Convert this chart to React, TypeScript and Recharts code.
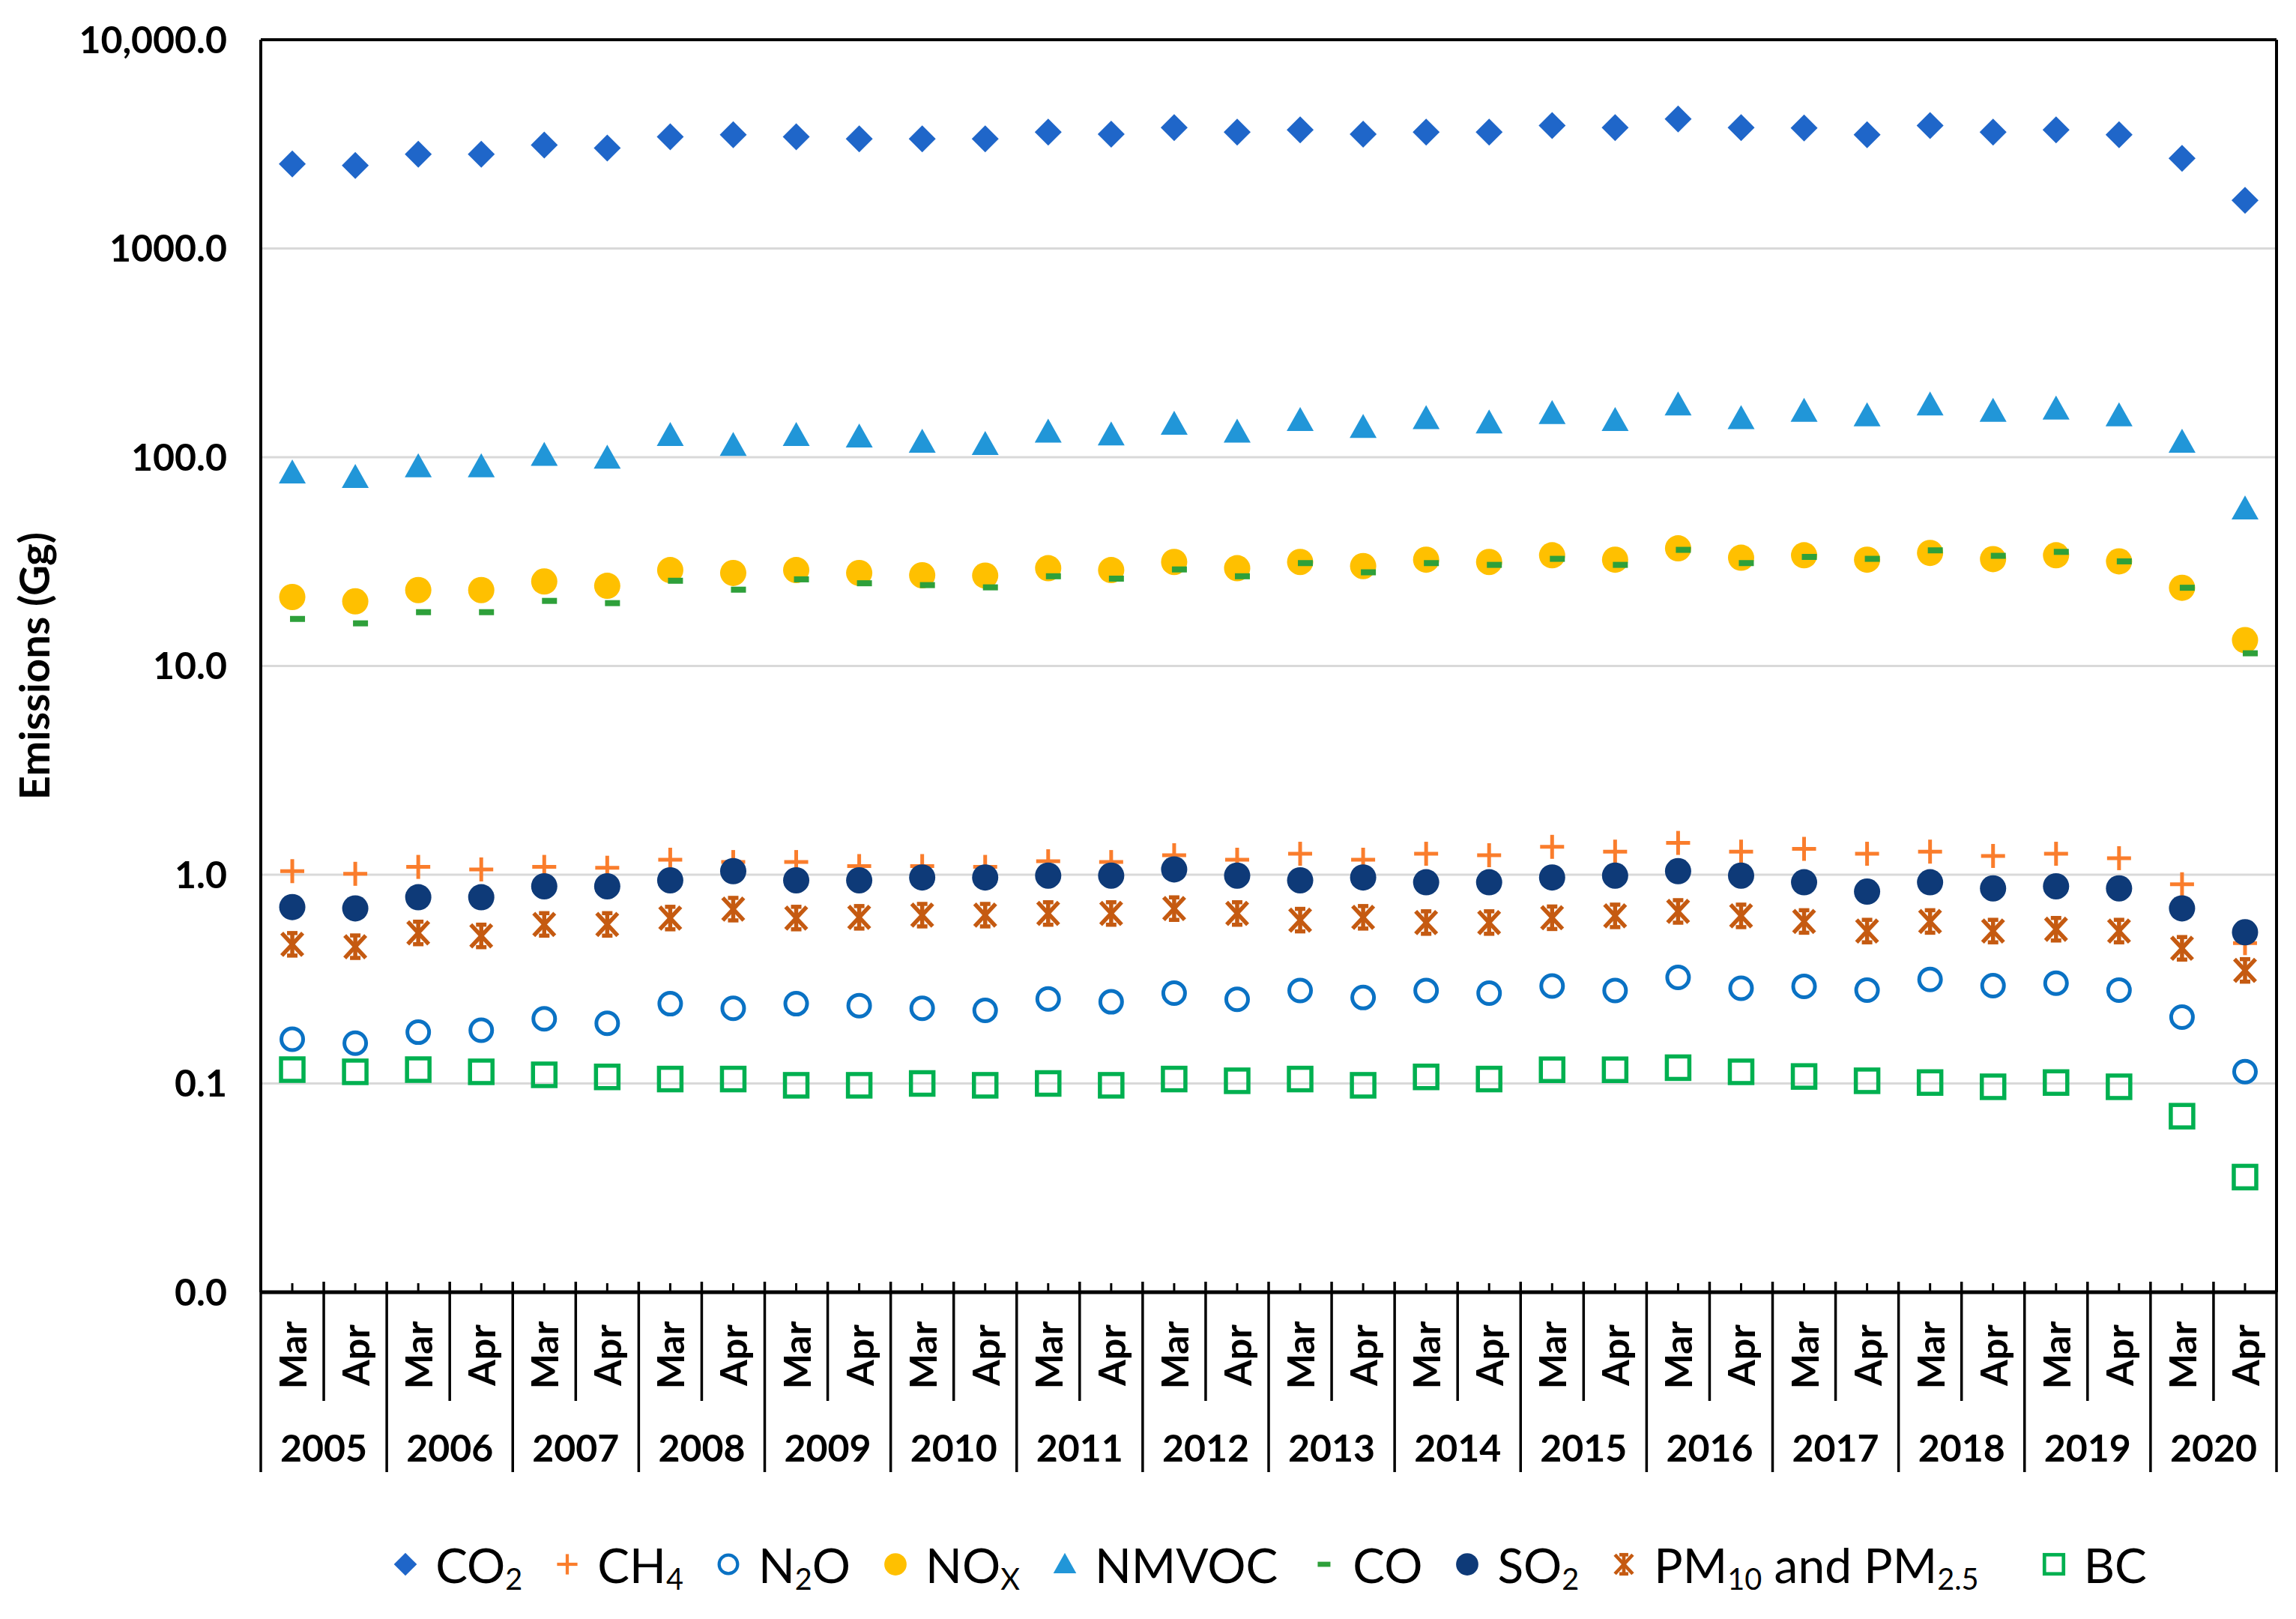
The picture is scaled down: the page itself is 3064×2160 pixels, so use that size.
import React from 'react'
import { ComposedChart, Line, XAxis, YAxis, CartesianGrid, ReferenceLine, Legend, Label } from 'recharts'

const FONT = 'Lato, "Open Sans", sans-serif'
const W = 3048
const H = 2144
const PLOT_W = 2690
const BAND = PLOT_W / 32

// ── data (Gg) ────────────────────────────────────────────
const years = ['2005', '2006', '2007', '2008', '2009', '2010', '2011', '2012',
  '2013', '2014', '2015', '2016', '2017', '2018', '2019', '2020']
const months = ['Mar', 'Apr']
const yTicks = [0.01, 0.1, 1, 10, 100, 1000, 10000]

const co2 = [2540, 2500, 2830, 2830, 3130, 3030, 3430, 3510, 3430, 3350, 3350, 3350, 3610, 3530, 3790, 3610,
  3700, 3530, 3610, 3610, 3880, 3790, 4170, 3790, 3780, 3510, 3880, 3610, 3700, 3510, 2700, 1700]
const ch4 = [1.04, 1.01, 1.09, 1.06, 1.09, 1.08, 1.18, 1.15, 1.15, 1.10, 1.10, 1.09, 1.16, 1.15, 1.24, 1.18,
  1.26, 1.18, 1.26, 1.24, 1.36, 1.29, 1.42, 1.29, 1.33, 1.26, 1.29, 1.23, 1.26, 1.20, 0.90, 0.47]
const n2o = [0.163, 0.156, 0.176, 0.180, 0.204, 0.194, 0.241, 0.229, 0.241, 0.236, 0.229, 0.224, 0.254, 0.246, 0.271, 0.253,
  0.279, 0.258, 0.279, 0.271, 0.293, 0.279, 0.322, 0.286, 0.292, 0.280, 0.315, 0.294, 0.302, 0.280, 0.208, 0.114]
const nox = [21.4, 20.4, 23.1, 23.1, 25.4, 24.2, 28.8, 27.9, 28.8, 27.9, 27.2, 27.1, 29.4, 28.8, 31.5, 29.4,
  31.5, 30.1, 32.3, 31.5, 33.9, 32.3, 36.6, 33.0, 33.9, 32.3, 34.8, 32.5, 33.9, 31.7, 23.7, 13.3]
const nmvoc = [84, 80, 90, 90, 102, 99, 127, 114, 127, 125, 118, 115, 132, 128, 144, 132,
  150, 139, 153, 146, 162, 150, 178, 153, 166, 158, 178, 166, 170, 158, 118, 56.5]
const co = [16.8, 16.0, 18.1, 18.1, 20.5, 20.0, 25.6, 23.2, 26.0, 24.9, 24.4, 23.8, 26.9, 26.2, 29.0, 26.9,
  31.1, 28.1, 31.1, 30.5, 32.6, 30.5, 36.0, 31.1, 33.3, 32.6, 35.8, 33.7, 35.2, 31.7, 23.7, 11.5]
const so2 = [0.70, 0.69, 0.78, 0.78, 0.88, 0.88, 0.94, 1.04, 0.94, 0.94, 0.97, 0.97, 0.99, 0.99, 1.06, 0.99,
  0.94, 0.97, 0.92, 0.92, 0.97, 0.99, 1.04, 0.99, 0.92, 0.83, 0.92, 0.86, 0.88, 0.86, 0.69, 0.53]
const pm = [0.464, 0.452, 0.526, 0.509, 0.578, 0.578, 0.62, 0.684, 0.62, 0.625, 0.64, 0.64, 0.652, 0.652, 0.688, 0.652,
  0.606, 0.625, 0.59, 0.59, 0.622, 0.635, 0.667, 0.635, 0.597, 0.537, 0.597, 0.537, 0.548, 0.537, 0.444, 0.348]
const bc = [0.1165, 0.1137, 0.1165, 0.1137, 0.110, 0.1075, 0.105, 0.105, 0.098, 0.098, 0.100, 0.098, 0.100, 0.098, 0.105, 0.103,
  0.105, 0.098, 0.1075, 0.105, 0.1163, 0.1163, 0.119, 0.1137, 0.108, 0.103, 0.101, 0.0964, 0.101, 0.0964, 0.0697, 0.0356]

const data = years.flatMap((y, yi) => months.map((m, mi) => {
  const i = yi * 2 + mi
  return {
    key: `${y}-${m}`, co2: co2[i], ch4: ch4[i], n2o: n2o[i], nox: nox[i], nmvoc: nmvoc[i],
    co: co[i], so2: so2[i], pm: pm[i], bc: bc[i],
  }
}))
const LAST_KEY = data[data.length - 1].key

const sub = (t: string) => (
  <sub style={{ fontSize: '0.62em', verticalAlign: '-0.22em', lineHeight: 0 }}>{t}</sub>
)

const series = [
  { key: 'co2', shape: 'diamond', color: '#1F66C9', label: <>CO{sub('2')}</> },
  { key: 'ch4', shape: 'plus', color: '#FA7D2C', label: <>CH{sub('4')}</> },
  { key: 'n2o', shape: 'ring', color: '#0A72C4', label: <>N{sub('2')}O</> },
  { key: 'nox', shape: 'dot', color: '#FFC000', label: <>NO{sub('X')}</> },
  { key: 'nmvoc', shape: 'triangle', color: '#2196D8', label: <>NMVOC</> },
  { key: 'co', shape: 'dash', color: '#2EA03A', label: <>CO</> },
  { key: 'so2', shape: 'dot', color: '#0E3A78', label: <>SO{sub('2')}</> },
  { key: 'pm', shape: 'star', color: '#C55A11', label: <>PM{sub('10')} and PM{sub('2.5')}</> },
  { key: 'bc', shape: 'square', color: '#00B050', label: <>BC</> },
]

// ── markers ───────────────────────────────────────────────
function marker(shape: string, cx: number, cy: number, c: string, s = 1) {
  switch (shape) {
    case 'diamond':
      return <path d={`M${cx},${cy - 18 * s}L${cx + 18 * s},${cy}L${cx},${cy + 18 * s}L${cx - 18 * s},${cy}Z`} fill={c} />
    case 'plus':
      return (
        <g stroke={c} strokeWidth={5 * s}>
          <line x1={cx - 16 * s} x2={cx + 16 * s} y1={cy} y2={cy} />
          <line x1={cx} x2={cx} y1={cy - 16 * s} y2={cy + 16 * s} />
        </g>
      )
    case 'ring':
      return <circle cx={cx} cy={cy} r={14.5 * s} fill="none" stroke={c} strokeWidth={5 * s} />
    case 'dot':
      return <circle cx={cx} cy={cy} r={17.5 * s} fill={c} />
    case 'triangle':
      return <path d={`M${cx},${cy - 18 * s}L${cx + 18 * s},${cy + 14 * s}L${cx - 18 * s},${cy + 14 * s}Z`} fill={c} />
    case 'dash':
      return <rect x={cx - 10 * s + 7 * s} y={cy - 4 * s} width={20 * s} height={8 * s} fill={c} />
    case 'star':
      return (
        <g stroke={c} strokeWidth={5.5 * s}>
          <line x1={cx} x2={cx} y1={cy - 17 * s} y2={cy + 17 * s} />
          <line x1={cx - 14 * s} x2={cx + 14 * s} y1={cy - 15 * s} y2={cy + 15 * s} />
          <line x1={cx + 14 * s} x2={cx - 14 * s} y1={cy - 15 * s} y2={cy + 15 * s} />
          <line x1={cx - 7 * s} x2={cx + 7 * s} y1={cy - 15 * s} y2={cy - 15 * s} />
          <line x1={cx - 7 * s} x2={cx + 7 * s} y1={cy + 15 * s} y2={cy + 15 * s} />
        </g>
      )
    case 'square':
      return <rect x={cx - 15 * s} y={cy - 15 * s} width={30 * s} height={30 * s} fill="none" stroke={c} strokeWidth={5.5 * s} />
  }
  return null
}

const makeDot = (shape: string, color: string, name: string) => (p: any) => {
  if (p.cx == null || p.cy == null) return <g key={`${name}-${p.index}`} />
  return <g key={`${name}-${p.index}`}>{marker(shape, p.cx, p.cy, color)}</g>
}

const yFmt = (v: number) =>
  v >= 10000 ? v.toLocaleString('en-US', { minimumFractionDigits: 1 }) : v.toFixed(1)

// ── two-level category axis (month / year) ───────────────
function MonthYearTick(props: any) {
  const { x, y, payload } = props
  const [year, month] = String(payload.value).split('-')
  const isMar = month === 'Mar'
  const left = x - BAND / 2
  const ly = y + 84
  return (
    <g>
      <line x1={x} x2={x} y1={y - 12} y2={y} stroke="#000" strokeWidth={3} />
      <line x1={left} x2={left} y1={y - 14} y2={y + (isMar ? 240 : 145)} stroke="#000" strokeWidth={3.5} />
      {payload.value === LAST_KEY && (
        <line x1={x + BAND / 2} x2={x + BAND / 2} y1={y - 14} y2={y + 240} stroke="#000" strokeWidth={3.5} />
      )}
      <text x={x} y={ly} transform={`rotate(-90, ${x}, ${ly})`} textAnchor="middle" dominantBaseline="central"
        fontFamily={FONT} fontWeight={700} fontSize={50} fill="#000">{month}</text>
      {isMar && (
        <text x={x + BAND / 2} y={y + 207} textAnchor="middle" dominantBaseline="central"
          fontFamily={FONT} fontWeight={700} fontSize={50} fill="#000">{year}</text>
      )}
    </g>
  )
}

function LegendBox() {
  return (
    <div style={{ display: 'flex', justifyContent: 'center', alignItems: 'center', height: 90,
      fontFamily: FONT, fontSize: 64, color: '#000', whiteSpace: 'nowrap' }}>
      {series.map((s, i) => (
        <div key={s.key} style={{ display: 'flex', alignItems: 'center',
          marginLeft: i === 0 ? 0 : s.key === 'bc' ? 80 : 40 }}>
          <svg width={40} height={44}>{marker(s.shape, s.shape === 'dash' ? 16 : 20, 22, s.color, 0.85)}</svg>
          <span style={{ marginLeft: 20 }}>{s.label}</span>
        </div>
      ))}
    </div>
  )
}

export default function App() {
  return (
    <div style={{ width: W, height: H, background: '#fff' }}>
      <ComposedChart width={W} height={H} data={data} margin={{ top: 45, right: 0, left: 0, bottom: 88 }}>
        <CartesianGrid vertical={false} stroke="#d9d9d9" strokeWidth={3} />
        <XAxis dataKey="key" scale="band" interval={0} height={250} tickSize={0} tickMargin={0}
          tickLine={false} axisLine={{ stroke: '#000', strokeWidth: 5 }} tick={<MonthYearTick />} />
        <YAxis scale="log" domain={[0.01, 10000]} ticks={yTicks} allowDataOverflow width={340}
          tickFormatter={yFmt} tickSize={0} tickMargin={45} tickLine={false}
          axisLine={{ stroke: '#000', strokeWidth: 4 }}
          tick={{ fontSize: 50, fontWeight: 700, fill: '#000', fontFamily: FONT }}>
          <Label value="Emissions (Gg)" angle={-90} position="insideLeft" offset={38}
            style={{ textAnchor: 'middle', fontSize: 56, fontWeight: 700, fontFamily: FONT, fill: '#000' }} />
        </YAxis>
        <YAxis yAxisId="r" orientation="right" width={18} domain={[0, 1]} tick={false} tickLine={false}
          axisLine={{ stroke: '#000', strokeWidth: 4 }} />
        <ReferenceLine y={10000} stroke="#000" strokeWidth={4} />
        {series.map(s => (
          <Line key={s.key} dataKey={s.key} stroke="none" dot={makeDot(s.shape, s.color, s.key)}
            activeDot={false} legendType="none" isAnimationActive={false} />
        ))}
        <Legend verticalAlign="bottom" content={<LegendBox />}
          wrapperStyle={{ left: 340, width: PLOT_W, top: 2034, height: 90 }} />
      </ComposedChart>
    </div>
  )
}
